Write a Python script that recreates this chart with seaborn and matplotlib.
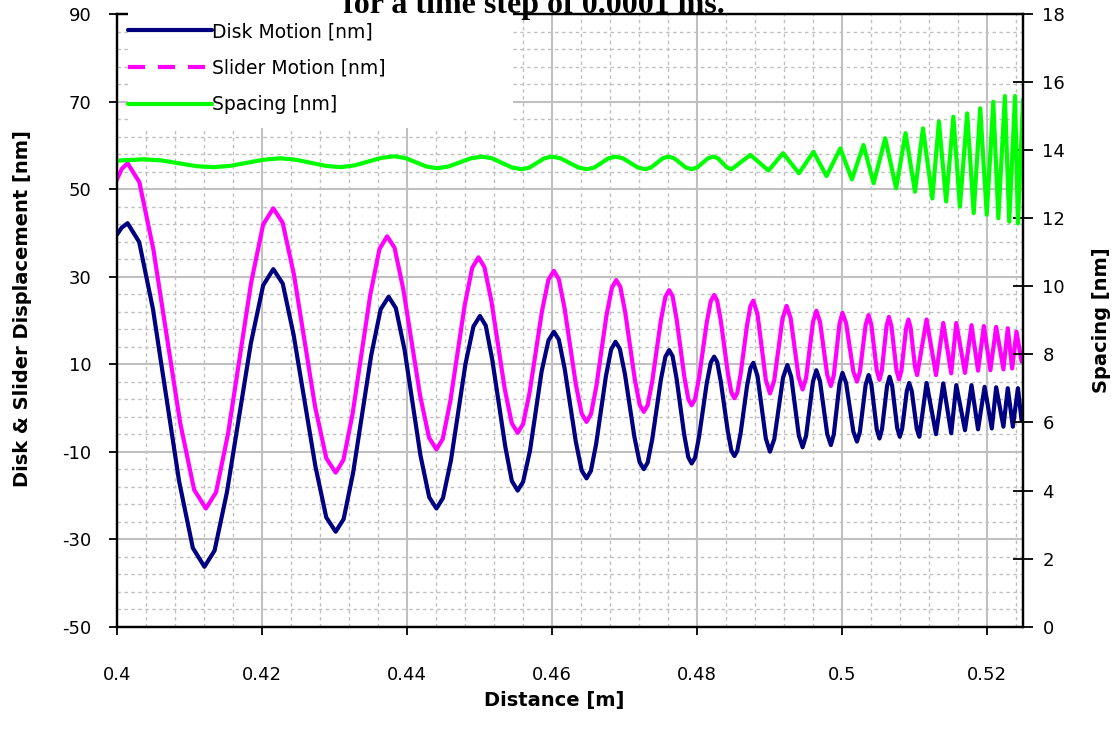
import matplotlib
matplotlib.use("Agg")
import matplotlib.pyplot as plt
import seaborn as sns
import numpy as np
from matplotlib.lines import Line2D
from matplotlib.patches import Rectangle
from matplotlib.ticker import FixedLocator, FixedFormatter

# ---------------- data ----------------
disk_x = [0.4000, 0.4007, 0.4015, 0.4031, 0.4050, 0.4068, 0.4086, 0.4105, 0.4121,
          0.4135, 0.4152, 0.41685, 0.4185, 0.4202, 0.4216,
          0.4229, 0.4244, 0.4259, 0.4274, 0.4289, 0.4302,
          0.4313, 0.4326, 0.43385, 0.4351, 0.4364, 0.4375,
          0.4385, 0.4397, 0.4408, 0.4419, 0.4431, 0.4441,
          0.4450, 0.4461, 0.4471, 0.4481, 0.4492, 0.4501,
          0.4509, 0.4518, 0.4527, 0.4536, 0.4545, 0.4553,
          0.45605, 0.4570, 0.4578, 0.4586, 0.45955, 0.4603,
          0.46098, 0.46178, 0.46255, 0.46332, 0.46413, 0.4648,
          0.4654, 0.46612, 0.4668, 0.46748, 0.4682, 0.4688,
          0.46939, 0.47009, 0.47075, 0.47141, 0.47212, 0.4727,
          0.47323, 0.47386, 0.47445, 0.47505, 0.47568, 0.4762,
          0.47667, 0.47722, 0.47775, 0.47828, 0.47884, 0.4793,
          0.47977, 0.48032, 0.48085, 0.48138, 0.48194, 0.4824,
          0.48282, 0.48332, 0.4838, 0.48428, 0.48478, 0.4852,
          0.48559, 0.48606, 0.4865, 0.48694, 0.48741, 0.4878,
          0.48838, 0.48895, 0.48953, 0.4901,
          0.4907, 0.4913, 0.4919, 0.4925,
          0.49303, 0.49355, 0.49408, 0.4946,
          0.49508, 0.49555, 0.49603, 0.4965,
          0.4970, 0.4975, 0.4980, 0.4985,
          0.4989, 0.4993, 0.4997, 0.5001,
          0.5006, 0.5011, 0.5016, 0.5021,
          0.5025, 0.5029, 0.5033, 0.5037,
          0.50408, 0.50445, 0.50483, 0.5052,
          0.50555, 0.5059, 0.50625, 0.5066,
          0.50695, 0.5073, 0.50765, 0.5080,
          0.50833, 0.50865, 0.50898, 0.5093,
          0.50965, 0.5100, 0.51035, 0.5107,
          0.5117, 0.5130, 0.5140, 0.5151, 0.5158, 0.5170, 0.5179, 0.5188,
          0.5197, 0.5207, 0.5213, 0.5223, 0.5229, 0.5236, 0.5243, 0.5248]
disk_y = [39.5, 41.2, 42.2, 37.9, 22.6, 3.0, -16.7, -32.0, -36.3,
          -32.6, -19.3, -2.3, 14.7, 28.0, 31.7,
          28.4, 16.7, 1.7, -13.3, -25.0, -28.3,
          -25.4, -14.9, -1.45, 12.0, 22.5, 25.4,
          22.8, 13.3, 1.2, -10.9, -20.4, -23.0,
          -20.6, -12.0, -1.0, 10.0, 18.6, 21.0,
          18.8, 11.0, 1.05, -8.9, -16.7, -18.9,
          -16.9, -9.8, -0.75, 8.3, 15.4, 17.4,
          15.6, 9.0, 0.65, -7.7, -14.3, -16.1,
          -14.4, -8.3, -0.5, 7.3, 13.4, 15.1,
          13.5, 7.8, 0.55, -6.7, -12.4, -14.0,
          -12.5, -7.2, -0.4, 6.4, 11.7, 13.2,
          11.8, 6.7, 0.25, -6.2, -11.3, -12.7,
          -11.4, -6.6, -0.5, 5.6, 10.4, 11.7,
          10.5, 6.0, 0.35, -5.3, -9.8, -11.0,
          -9.8, -5.7, -0.35, 5.0, 9.1, 10.3,
          7.3, 0.15, -7.0, -10.0,
          -7.1, -0.1, 6.9, 9.8,
          7.1, 0.4, -6.3, -9.0,
          -6.4, -0.2, 6.0, 8.6,
          6.1, 0.05, -6.0, -8.5,
          -6.1, -0.25, 5.6, 8.0,
          5.7, 0.15, -5.4, -7.7,
          -5.5, -0.1, 5.3, 7.5,
          5.4, 0.25, -4.9, -7.0,
          -4.9, 0.05, 5.0, 7.1,
          5.1, 0.25, -4.6, -6.6,
          -4.8, -0.45, 3.9, 5.7,
          3.9, -0.45, -4.8, -6.6,
          5.7, -6.0, 5.6, -5.8, 5.2, -5.1, 5.2, -4.9,
          4.8, -4.7, 4.7, -4.3, 4.5, -4.3, 4.5, -2.8]

slider_x = [0.4000, 0.4007, 0.4015, 0.40312, 0.40506, 0.4069, 0.40874, 0.41068, 0.4123,
            0.41370, 0.41537, 0.41695, 0.41853, 0.4202, 0.4216,
            0.42289, 0.42444, 0.4259, 0.42736, 0.42891, 0.4302,
            0.43127, 0.43254, 0.43375, 0.43496, 0.43624, 0.4373,
            0.43832, 0.43954, 0.4407, 0.44186, 0.44308, 0.4441,
            0.44497, 0.44601, 0.4470, 0.44799, 0.44903, 0.4499,
            0.45071, 0.45168, 0.4526, 0.45352, 0.45449, 0.4553,
            0.45605, 0.45695, 0.4578, 0.45865, 0.45955, 0.4603,
            0.46098, 0.46178, 0.46255, 0.46332, 0.46413, 0.4648,
            0.46542, 0.46615, 0.46685, 0.46755, 0.46829, 0.4689,
            0.46947, 0.47015, 0.4708, 0.47145, 0.47213, 0.4727,
            0.47323, 0.47386, 0.47445, 0.47505, 0.47568, 0.4762,
            0.47667, 0.47722, 0.47775, 0.47828, 0.47884, 0.4793,
            0.47977, 0.48032, 0.48085, 0.48138, 0.48194, 0.4824,
            0.48282, 0.48332, 0.4838, 0.48428, 0.48478, 0.4852,
            0.48559, 0.48606, 0.4865, 0.48694, 0.48741, 0.4878,
            0.48838, 0.48895, 0.48953, 0.4901,
            0.49068, 0.49125, 0.49183, 0.4924,
            0.49295, 0.4935, 0.49405, 0.4946,
            0.49508, 0.49555, 0.49603, 0.4965,
            0.4970, 0.4975, 0.4980, 0.4985,
            0.4989, 0.4993, 0.4997, 0.5001,
            0.5006, 0.5011, 0.5016, 0.5021,
            0.5025, 0.5029, 0.5033, 0.5037,
            0.50408, 0.50445, 0.50483, 0.5052,
            0.50553, 0.50585, 0.50618, 0.5065,
            0.50685, 0.5072, 0.50755, 0.5079,
            0.50823, 0.50855, 0.50888, 0.5092,
            0.5095, 0.5098, 0.5101, 0.5104,
            0.5117, 0.5130, 0.5140, 0.5151, 0.5158, 0.5170, 0.5179, 0.5188,
            0.5196, 0.5205, 0.5213, 0.5223, 0.5229, 0.5235, 0.5241, 0.5248]
slider_y = [52.1, 54.6, 55.9, 51.6, 36.2, 16.45, -3.3, -18.7, -23.0,
            -19.3, -5.8, 11.3, 28.5, 41.9, 45.6,
            42.3, 30.5, 15.4, 0.3, -11.5, -14.8,
            -11.9, -1.3, 12.2, 25.7, 36.3, 39.2,
            36.6, 27.0, 14.85, 2.7, -6.8, -9.5,
            -7.1, 1.5, 12.45, 23.4, 32.0, 34.4,
            32.2, 24.4, 14.35, 4.3, -3.5, -5.7,
            -3.7, 3.55, 12.8, 22.05, 29.3, 31.3,
            29.4, 22.7, 14.05, 5.4, -1.3, -3.2,
            -1.4, 4.9, 13.0, 21.1, 27.4, 29.2,
            27.6, 21.7, 14.15, 6.6, 0.7, -0.9,
            0.6, 6.05, 13.0, 19.95, 25.4, 26.9,
            25.5, 20.3, 13.75, 7.2, 2.0, 0.6,
            2.0, 6.9, 13.2, 19.5, 24.4, 25.8,
            24.5, 19.9, 14.0, 8.1, 3.5, 2.2,
            3.4, 7.8, 13.35, 18.9, 23.3, 24.5,
            21.4, 13.9, 6.4, 3.3,
            6.2, 13.3, 20.4, 23.3,
            20.5, 13.75, 7.0, 4.2,
            6.8, 13.2, 19.6, 22.2,
            19.7, 13.6, 7.5, 5.0,
            7.4, 13.35, 19.3, 21.7,
            19.4, 13.85, 8.3, 6.0,
            8.2, 13.6, 19.0, 21.2,
            19.0, 13.8, 8.6, 6.4,
            8.5, 13.6, 18.7, 20.8,
            18.7, 13.65, 8.6, 6.5,
            8.5, 13.35, 18.2, 20.2,
            18.35, 13.85, 9.4, 7.5,
            20.2, 7.5, 19.4, 7.9, 19.4, 8.0, 18.9, 8.5,
            18.7, 8.6, 18.5, 8.8, 18.2, 9.0, 17.4, 10.6]

spacing_x = [0.4000, 0.4037, 0.40613, 0.40855, 0.41098, 0.4134,
             0.4157, 0.4180, 0.4203, 0.4226,
             0.42468, 0.42675, 0.42883, 0.4309,
             0.43275, 0.4346, 0.43645, 0.4383,
             0.43978, 0.44125, 0.44273, 0.4442,
             0.44575, 0.4473, 0.44885, 0.4504,
             0.45178, 0.45315, 0.45453, 0.4559,
             0.45693, 0.45795, 0.45898, 0.4600,
             0.46123, 0.46245, 0.46368, 0.4649,
             0.46588, 0.46685, 0.46783, 0.4688,
             0.46983, 0.47085, 0.47188, 0.4729,
             0.4737, 0.4745, 0.4753, 0.4761,
             0.4769, 0.4777, 0.4785, 0.4793,
             0.48005, 0.4808, 0.48155, 0.4823,
             0.48293, 0.48355, 0.48418, 0.4848,
             0.4874, 0.4899, 0.4919,
             0.4941, 0.4961, 0.4979, 0.4998, 0.5014, 0.5030, 0.5044, 0.5060, 0.5075, 0.5088,
             0.5101, 0.5112, 0.5125, 0.5134, 0.5144, 0.5154, 0.5163, 0.5173, 0.5182, 0.5191,
             0.5200, 0.5209, 0.5216, 0.5225, 0.5231, 0.5239, 0.5243, 0.5250]
spacing_y = [13.69, 13.73, 13.70, 13.615, 13.53, 13.50,
             13.54, 13.63, 13.72, 13.76,
             13.72, 13.63, 13.54, 13.50,
             13.55, 13.66, 13.77, 13.82,
             13.77, 13.645, 13.52, 13.47,
             13.52, 13.64, 13.76, 13.81,
             13.76, 13.625, 13.49, 13.44,
             13.49, 13.625, 13.76, 13.81,
             13.76, 13.625, 13.49, 13.44,
             13.49, 13.625, 13.76, 13.81,
             13.76, 13.625, 13.49, 13.44,
             13.49, 13.625, 13.76, 13.81,
             13.76, 13.625, 13.49, 13.44,
             13.49, 13.625, 13.76, 13.81,
             13.76, 13.625, 13.49, 13.44,
             13.86, 13.40, 13.91,
             13.32, 13.95, 13.24, 14.05, 13.14, 14.15, 13.03, 14.35, 12.88, 14.50,
             12.78, 14.64, 12.58, 14.84, 12.49, 14.98, 12.34, 15.08, 12.15, 15.23,
             12.10, 15.42, 12.00, 15.59, 11.90, 15.59, 11.85, 15.49]

x_ticks = [0.40, 0.42, 0.44, 0.46, 0.48, 0.50, 0.52]
x_tick_labels = ["0.4", "0.42", "0.44", "0.46", "0.48", "0.5", "0.52"]
left_ticks = [-50, -30, -10, 10, 30, 50, 70, 90]
left_tick_labels = ["-50", "-30", "-10", "10", "30", "50", "70", "90"]
right_ticks = [0, 2, 4, 6, 8, 10, 12, 14, 16, 18]
right_tick_labels = ["0", "2", "4", "6", "8", "10", "12", "14", "16", "18"]

series_labels = ["Disk Motion [nm]", "Slider Motion [nm]", "Spacing [nm]"]
title_text = "for a time step of 0.0001 ms."

# ---------------- style ----------------
sns.set_theme(style="white")
plt.rcParams["font.family"] = ["DejaVu Sans"]

W, H = 1118, 740
fig = plt.figure(figsize=(W / 100, H / 100), dpi=100)
L, R, T, B = 116.7, 1023.0, 14.0, 626.7
ax = fig.add_axes([L / W, 1 - B / H, (R - L) / W, (B - T) / H])
ax2 = ax.twinx()

navy = "#000080"
magenta = "#FF00FF"
lime = "#00FF00"
gridc = "#C0C0C0"
LW = 3.0

sns.lineplot(x=disk_x, y=disk_y, ax=ax, color=navy, linewidth=LW,
             sort=False, estimator=None)
sns.lineplot(x=slider_x, y=slider_y, ax=ax, color=magenta, linewidth=LW,
             sort=False, estimator=None)
sns.lineplot(x=spacing_x, y=spacing_y, ax=ax2, color=lime, linewidth=LW,
             sort=False, estimator=None)

ax.set_xlim(0.4, 0.525)
ax.set_ylim(-50, 90)
ax2.set_ylim(0, 18)

ax.xaxis.set_major_locator(FixedLocator(x_ticks))
ax.xaxis.set_major_formatter(FixedFormatter(x_tick_labels))
ax.xaxis.set_minor_locator(FixedLocator(list(np.arange(0.4, 0.5251, 0.004))))
ax.yaxis.set_major_locator(FixedLocator(left_ticks))
ax.yaxis.set_major_formatter(FixedFormatter(left_tick_labels))
ax.yaxis.set_minor_locator(FixedLocator(list(range(-50, 91, 4))))
ax2.yaxis.set_major_locator(FixedLocator(right_ticks))
ax2.yaxis.set_major_formatter(FixedFormatter(right_tick_labels))

ax.grid(which="minor", color=gridc, linewidth=1.0, linestyle=(0, (2.5, 2.5)))
ax.grid(which="major", color=gridc, linewidth=1.5, linestyle="-")
ax2.grid(False)
ax.set_axisbelow(True)

for a in (ax, ax2):
    for s in a.spines.values():
        s.set_color("black")
        s.set_linewidth(1.6)
        s.set_visible(True)

ax.tick_params(axis="both", which="major", direction="out", length=6, width=1.3,
               color="black", labelsize=13, labelcolor="black")
ax.tick_params(axis="x", which="major", pad=22)
ax.tick_params(axis="y", which="major", pad=12)
ax.tick_params(axis="both", which="minor", length=0)
ax2.tick_params(axis="y", which="major", direction="inout", length=14, width=1.3,
                color="black", labelsize=13, labelcolor="black", pad=7)
ax.tick_params(left=True, bottom=True)
ax2.tick_params(right=True)

lab_font = dict(fontsize=14, fontweight="bold", color="black")
ax.set_xlabel("Distance [m]", **lab_font)
ax.set_ylabel("Disk & Slider Displacement [nm]", **lab_font)
ax2.set_ylabel("Spacing [nm]", **lab_font)
ax.xaxis.set_label_coords(0.4825, -0.105)
ax.yaxis.set_label_coords(-0.093, 0.52)
ax2.yaxis.set_label_coords(1.076, 0.50)

# legend box (white, no border) covering the top-left corner
rect = Rectangle((128 / W, 1 - 128 / H), (513 - 128) / W, (128 - 10) / H,
                 transform=fig.transFigure, facecolor="white", edgecolor="none",
                 zorder=1)
fig.add_artist(rect)

handles = [Line2D([], [], color=navy, linewidth=LW),
           Line2D([], [], color=magenta, linewidth=LW, dashes=(4.1, 3.1)),
           Line2D([], [], color=lime, linewidth=LW)]
leg = fig.legend(handles, series_labels, loc="upper left",
                 bbox_to_anchor=(128 / W, 1 - 22 / H), bbox_transform=fig.transFigure,
                 frameon=False, fontsize=13.5, handlelength=4.5, handletextpad=0.0,
                 borderpad=0.0, borderaxespad=0.0, labelspacing=0.94)
for t in leg.get_texts():
    t.set_color("black")
leg.set_zorder(2)

fig.text(534 / W, 1 - 13 / H, title_text, ha="center", va="baseline",
         fontsize=23, fontweight="bold", family=["Liberation Serif", "DejaVu Serif"],
         color="black", zorder=3)

fig.savefig("out.png", dpi=100)
